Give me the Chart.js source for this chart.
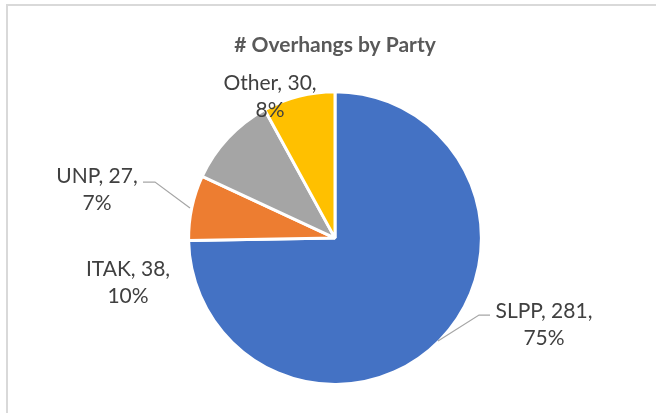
<!DOCTYPE html>
<html>
<head>
<meta charset="utf-8">
<script src="https://cdn.jsdelivr.net/npm/chart.js@4/dist/chart.umd.min.js"></script>
<style>
  html, body { margin: 0; padding: 0; background: #fff; overflow: hidden; }
  #wrap { position: relative; width: 656px; height: 413px; }
  #frame { position: absolute; left: 6px; top: 4px; width: 700px; height: 500px;
           border-left: 2px solid #d9d9d9; border-top: 2px solid #d9d9d9; }
  canvas { position: absolute; left: 0; top: 0; }
</style>
</head>
<body>
<div id="wrap">
  <div id="frame"></div>
  <canvas id="chart" width="656" height="413"></canvas>
</div>
<script>
const parties = ['SLPP', 'UNP', 'ITAK', 'Other'];
const overhangs = [281, 27, 38, 30];
const percents = ['75%', '7%', '10%', '8%'];
const sliceColors = ['#4472c4', '#ed7d31', '#a5a5a5', '#ffc000'];

// label placement relative to pie centre (excel-style outside labels)
const labelSpots = [
  { dx: 209, dy: 73, leader: [[155, 77], [144, 77], [103, 103]] },
  { dx: -238, dy: -62, leader: [[-192, -56], [-180, -56], [-145, -30]] },
  { dx: -207, dy: 31, leader: null },
  { dx: -65, dy: -155, leader: null }
];

const pieLabels = {
  id: 'pieLabels',
  afterDatasetsDraw(chart) {
    const ctx = chart.ctx;
    const arcs = chart.getDatasetMeta(0).data;
    ctx.save();
    arcs.forEach((arc, i) => {
      const spot = labelSpots[i];
      const cx = arc.x, cy = arc.y;
      if (spot.leader) {
        ctx.strokeStyle = '#a6a6a6';
        ctx.lineWidth = 1.2;
        ctx.beginPath();
        spot.leader.forEach((p, j) => {
          if (j === 0) ctx.moveTo(cx + p[0], cy + p[1]);
          else ctx.lineTo(cx + p[0], cy + p[1]);
        });
        ctx.stroke();
      }
      ctx.fillStyle = '#404040';
      ctx.font = '21px Lato';
      ctx.textAlign = 'center';
      ctx.textBaseline = 'middle';
      ctx.fillText(`${parties[i]}, ${overhangs[i]},`, cx + spot.dx, cy + spot.dy);
      ctx.fillText(percents[i], cx + spot.dx, cy + spot.dy + 27);
    });
    ctx.restore();
  }
};

new Chart(document.getElementById('chart'), {
  type: 'pie',
  data: {
    labels: parties,
    datasets: [{
      data: overhangs,
      backgroundColor: sliceColors,
      borderColor: '#ffffff',
      borderWidth: 3
    }]
  },
  options: {
    responsive: false,
    animation: false,
    layout: { padding: { top: 0, bottom: 27, left: 186, right: 172 } },
    plugins: {
      legend: { display: false },
      tooltip: { enabled: false },
      title: {
        display: true,
        text: '# Overhangs by Party',
        color: '#595959',
        font: { family: 'Lato', size: 21, weight: 'bold' },
        padding: { top: 33, bottom: 32 }
      }
    }
  },
  plugins: [pieLabels]
});
</script>
</body>
</html>
